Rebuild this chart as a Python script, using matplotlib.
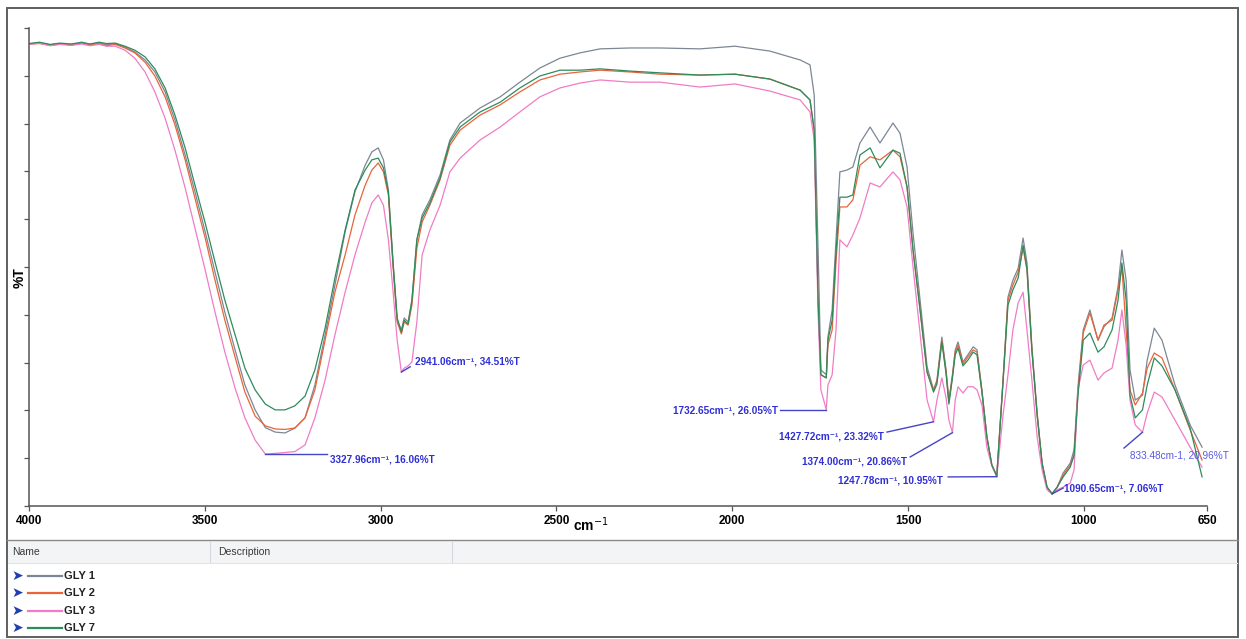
import matplotlib
matplotlib.use("Agg")
import matplotlib.pyplot as plt
from matplotlib.patches import Rectangle
from matplotlib.lines import Line2D
import numpy as np

# ---------------- data ----------------
wavenumber = [
    4000, 3970, 3940, 3912, 3880, 3850, 3827, 3800, 3780, 3755,
    3727, 3699, 3670, 3642, 3613, 3585, 3556, 3528, 3499, 3471, 3443, 3414, 3386, 3357, 3327.96, 3300, 3272,
    3244, 3215, 3187, 3158, 3130, 3101, 3073, 3044, 3025, 3007, 2992, 2978, 2965, 2953, 2941.06, 2933, 2922,
    2911, 2897, 2882, 2860, 2831, 2803, 2774, 2717, 2660, 2604, 2547, 2490, 2433, 2376,
    2291, 2205, 2092, 1992, 1893, 1807, 1779, 1767, 1756,
    1748, 1732.65, 1728, 1716, 1705, 1694, 1674, 1657, 1637, 1608, 1580, 1543, 1523, 1503, 1486, 1466, 1446,
    1427.72, 1418, 1404, 1392, 1384, 1374.00, 1366, 1358, 1344, 1330, 1315, 1304, 1290, 1276, 1262, 1247.78,
    1230, 1216, 1202, 1187, 1173, 1162, 1148, 1133, 1119, 1105, 1090.65, 1076, 1059, 1039, 1028, 1017, 1002,
    983, 960, 943, 920, 903, 892, 880, 869, 854, 833.48, 820, 800, 778, 741, 698, 664,
]

gly1 = [
    108.4, 108.7, 108.2, 108.5, 108.1, 108.6, 108.3, 108.7, 108.2, 108.5,
    107.7, 106.6, 104.8, 102.1, 97.6, 91.3, 83.4, 75.1, 66.1, 57.0, 48.0, 39.5, 31.6, 26.0, 22.0, 21.0, 20.8,
    21.9, 24.2, 31.6, 42.9, 54.1, 66.1, 75.1, 81.1, 84.1, 85.0, 82.3, 75.5, 59.7, 46.2, 44.0, 46.7, 45.8,
    50.7, 64.3, 69.9, 73.3, 78.9, 86.8, 90.6, 94.0, 96.5, 99.8, 103.0, 105.2, 106.4, 107.3,
    107.5, 107.5, 107.3, 107.9, 106.8, 104.8, 103.7, 96.9, 62.0,
    35.0, 33.9, 42.4, 48.5, 64.3, 79.6, 80.0, 80.7, 86.1, 89.7, 86.1, 90.6, 88.3, 80.7, 65.8, 50.7, 35.7,
    30.5, 32.7, 42.4, 35.0, 28.2, 33.9, 39.5, 41.3, 36.8, 38.4, 40.2, 39.5, 30.5, 19.9, 13.6, 11.1,
    32.7, 51.4, 55.2, 57.9, 64.7, 59.1, 40.2, 25.3, 14.0, 8.6, 7.1, 8.6, 11.8, 14.0, 17.0, 31.2, 44.0,
    48.5, 41.7, 44.7, 46.7, 53.7, 62.0, 55.2, 35.0, 28.2, 29.3, 37.2, 44.4, 41.7, 31.6, 22.6, 17.6,
]

gly2 = [
    108.4, 108.5, 108.1, 108.4, 108.3, 108.6, 108.2, 108.5, 108.0, 108.3,
    107.5, 106.4, 104.3, 101.2, 96.5, 90.2, 82.3, 73.7, 64.7, 55.2, 46.2, 37.9, 30.0, 24.6, 22.4, 21.7, 21.6,
    21.9, 24.2, 30.5, 41.7, 52.5, 60.9, 69.9, 76.6, 80.0, 81.6, 79.6, 74.4, 58.6, 45.8, 43.1, 45.8, 45.1,
    49.6, 62.4, 68.3, 72.1, 77.8, 85.6, 89.0, 92.4, 94.7, 97.6, 100.3, 101.6, 102.1, 102.5,
    102.1, 101.6, 101.4, 101.6, 100.5, 98.0, 95.8, 89.0, 50.7,
    33.9, 33.2, 40.6, 44.0, 59.3, 71.7, 71.7, 73.3, 81.1, 83.0, 82.3, 84.5, 83.0, 76.2, 62.0, 48.5, 34.5,
    30.5, 32.3, 41.7, 34.5, 27.8, 33.4, 39.0, 40.6, 36.3, 37.9, 39.5, 39.0, 30.0, 19.9, 13.6, 11.1,
    32.7, 50.7, 54.1, 57.0, 62.4, 57.5, 39.5, 24.8, 14.0, 8.6, 7.1, 8.6, 11.3, 13.6, 15.8, 30.0, 43.3,
    47.8, 41.7, 45.1, 46.2, 53.0, 58.2, 44.0, 30.5, 27.1, 29.8, 35.4, 38.8, 37.7, 30.5, 21.5, 14.7,
]

gly3 = [
    108.3, 108.6, 108.0, 108.3, 108.1, 108.4, 108.0, 108.3, 107.9, 107.9,
    107.0, 105.2, 102.1, 97.6, 91.7, 84.5, 76.0, 66.9, 57.5, 48.0, 39.0, 30.9, 24.2, 19.2, 16.06, 16.2, 16.4,
    16.6, 18.1, 24.2, 32.7, 42.9, 52.5, 60.9, 68.3, 72.6, 74.4, 72.1, 64.3, 53.0, 41.7, 34.51, 35.4, 35.9,
    36.8, 45.8, 60.9, 66.5, 72.1, 79.6, 82.7, 86.8, 89.7, 93.1, 96.5, 98.5, 99.6, 100.3,
    99.8, 99.8, 98.7, 99.4, 97.8, 95.8, 93.1, 86.8, 48.0,
    30.5, 26.05, 31.6, 33.9, 44.0, 64.3, 62.7, 65.4, 69.2, 77.1, 76.2, 79.6, 77.8, 71.7, 58.2, 43.3, 28.2,
    23.32, 28.2, 33.2, 28.7, 23.7, 20.86, 28.2, 31.2, 29.8, 31.2, 31.2, 30.5, 27.1, 17.6, 13.4, 10.95,
    24.8, 33.9, 44.0, 50.1, 52.5, 44.0, 32.7, 19.9, 12.5, 8.0, 7.06, 8.0, 8.6, 9.5, 12.5, 30.5, 36.1,
    37.2, 32.7, 34.3, 35.4, 41.7, 48.5, 40.6, 28.2, 22.6, 20.96, 25.3, 30.0, 28.9, 23.7, 17.6, 13.1,
]

gly7 = [
    108.5, 108.8, 108.3, 108.6, 108.4, 108.8, 108.4, 108.8, 108.5, 108.6,
    107.9, 107.0, 105.5, 102.8, 98.5, 92.4, 85.0, 76.6, 68.1, 59.3, 50.7, 42.9, 35.4, 30.5, 27.3, 26.0, 26.0,
    26.9, 29.1, 35.0, 44.4, 55.7, 66.5, 75.5, 80.0, 82.3, 82.7, 80.5, 75.1, 59.3, 46.7, 43.5, 46.2, 45.3,
    50.7, 64.3, 69.2, 72.6, 78.2, 86.3, 89.7, 93.1, 95.3, 98.5, 101.2, 102.5, 102.5, 102.8,
    102.3, 101.9, 101.4, 101.6, 100.5, 98.0, 95.8, 89.0, 50.7,
    33.9, 33.2, 41.7, 46.2, 61.5, 73.9, 73.9, 74.4, 83.4, 85.0, 80.5, 84.5, 83.8, 76.2, 62.0, 48.5, 34.5,
    30.0, 31.8, 41.3, 34.1, 27.3, 33.2, 38.4, 39.9, 35.9, 37.2, 39.0, 38.4, 30.0, 19.9, 13.6, 11.1,
    32.3, 49.6, 53.0, 55.7, 63.1, 57.9, 39.5, 24.8, 14.0, 8.6, 7.1, 8.6, 10.9, 13.1, 15.8, 29.3, 41.7,
    43.3, 39.0, 40.2, 44.0, 50.7, 59.1, 50.7, 29.3, 24.2, 26.0, 31.6, 37.7, 35.9, 30.5, 21.9, 10.9,
]

series_names = ["GLY 1", "GLY 2", "GLY 3", "GLY 7"]
x_ticks = [4000, 3500, 3000, 2500, 2000, 1500, 1000, 650]

peak_wn = [3327.96, 2941.06, 1732.65, 1427.72, 1374.00, 1247.78, 1090.65, 833.48]
peak_t = [16.06, 34.51, 26.05, 23.32, 20.86, 10.95, 7.06, 20.96]
peak_labels = [
    "3327.96cm\u207b\u00b9, 16.06%T",
    "2941.06cm\u207b\u00b9, 34.51%T",
    "1732.65cm\u207b\u00b9, 26.05%T",
    "1427.72cm\u207b\u00b9, 23.32%T",
    "1374.00cm\u207b\u00b9, 20.86%T",
    "1247.78cm\u207b\u00b9, 10.95%T",
    "1090.65cm\u207b\u00b9, 7.06%T",
    "833.48cm-1, 20.96%T",
]

# ---------------- layout / style ----------------
colors = ["#7b8794", "#e8643a", "#f07cc6", "#2e8b5c"]
ann_color = "#2f2fd6"
# leader-line end (data) and text anchor (data) for each annotation
leader_end = [(3152, 16.06), (2916, 35.7), (1864, 26.05), (1560, 21.0),
              (1494, 15.4), (1386, 10.9), (1059, 8.4), (886, 17.4)]
text_pos = [(3144, 14.9, "left"), (2902, 37.0, "left"), (1870, 25.8, "right"),
            (1568, 19.9, "right"), (1503, 14.3, "right"), (1400, 10.0, "right"),
            (1056, 8.2, "left"), (869, 15.8, "left")]

W, H = 1246, 639
fig = plt.figure(figsize=(W / 100, H / 100), dpi=100)
fig.patch.set_facecolor("white")


def fx(px):
    return px / W


def fy(py):
    return 1 - py / H


ax = fig.add_axes([fx(29), fy(506), fx(1207) - fx(29), fy(28) - fy(506)])
ymin, ymax = 4.35, 112.0

all_series = [gly1, gly2, gly3, gly7]
for idx in [2, 1, 3, 0]:
    ax.plot(wavenumber, all_series[idx], color=colors[idx], lw=0.9, zorder=2 + idx * 0.1)

ax.set_xlim(4000, 650)
ax.set_ylim(ymin, ymax)
ax.set_xticks(x_ticks)
ax.set_xticklabels([str(t) for t in x_ticks], fontsize=8.5, fontweight="bold",
                   family=["Liberation Sans", "DejaVu Sans"])
ax.set_yticks(np.linspace(ymin, ymax, 11))
ax.set_yticklabels([])
ax.tick_params(axis="both", direction="out", length=3.5, width=0.9, color="#555555", pad=3)
for s in ["top", "right"]:
    ax.spines[s].set_visible(False)
for s in ["left", "bottom"]:
    ax.spines[s].set_color("#555555")
    ax.spines[s].set_linewidth(1.1)

# annotations
for i in range(len(peak_wn)):
    lx, ly = leader_end[i]
    ax.add_line(Line2D([peak_wn[i], lx], [peak_t[i], ly], color="#4545c8", lw=1.0,
                       zorder=5, clip_on=False))
    tx, ty, ha = text_pos[i]
    last = i == len(peak_wn) - 1
    ax.text(tx, ty, peak_labels[i], color="#5a5ae0" if last else ann_color,
            fontsize=7.2, fontweight="normal" if last else "bold", ha=ha, va="center",
            family=["Liberation Sans", "DejaVu Sans"], zorder=6, clip_on=False)

# axis labels
fig.text(fx(20), fy(278), "%T", rotation=90, ha="center", va="center", fontsize=10,
         fontweight="bold", family=["Liberation Sans", "DejaVu Sans"])
fig.text(fx(591), fy(525), "cm$^{-1}$", ha="center", va="center", fontsize=10,
         fontweight="bold", family=["Liberation Sans", "DejaVu Sans"])

# outer frame and list panel
fig.add_artist(Rectangle((fx(7), fy(637)), fx(1238) - fx(7), fy(8) - fy(637),
                         transform=fig.transFigure, fill=False, ec="#5f5f5f", lw=1.4))
fig.add_artist(Rectangle((fx(8), fy(563)), fx(1237) - fx(8), fy(541) - fy(563),
                         transform=fig.transFigure, fc="#f2f4f6", ec="none"))
fig.add_artist(Line2D([fx(7), fx(1238)], [fy(540), fy(540)], transform=fig.transFigure,
                      color="#8a8a8a", lw=1.0))
fig.add_artist(Line2D([fx(8), fx(1237)], [fy(563), fy(563)], transform=fig.transFigure,
                      color="#e2e4e8", lw=0.8))
for cx in [210, 452]:
    fig.add_artist(Line2D([fx(cx), fx(cx)], [fy(542), fy(562)], transform=fig.transFigure,
                          color="#d5d8dc", lw=0.8))
fig.text(fx(12), fy(552), "Name", ha="left", va="center", fontsize=7.5, color="#3a3a3a",
         family=["Liberation Sans", "DejaVu Sans"])
fig.text(fx(218), fy(552), "Description", ha="left", va="center", fontsize=7.5, color="#3a3a3a",
         family=["Liberation Sans", "DejaVu Sans"])

row_y = [576, 593, 611, 628]
for i, name in enumerate(series_names):
    yy = fy(row_y[i])
    fig.text(fx(11), yy, "\u27a4", ha="left", va="center", fontsize=10, color="#1f3fae",
             family=["DejaVu Sans"])
    fig.add_artist(Line2D([fx(28), fx(62)], [yy, yy], transform=fig.transFigure,
                          color=colors[i], lw=1.6))
    fig.text(fx(64), yy, name, ha="left", va="center", fontsize=8, fontweight="bold",
             color="#222222", family=["Liberation Sans", "DejaVu Sans"])

fig.savefig("out.png", dpi=100, facecolor="white")
